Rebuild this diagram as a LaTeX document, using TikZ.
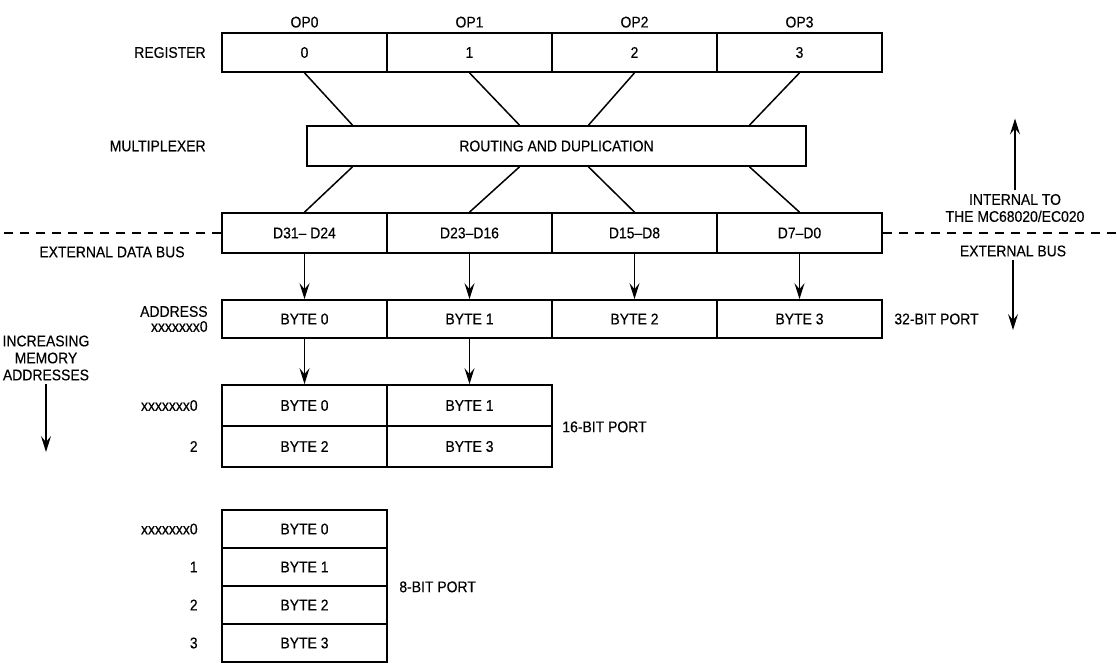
\documentclass[tikz,border=0pt]{standalone}
\usepackage{fontspec}
\setmainfont[FakeStretch=0.9, FakeBold=0.3]{Liberation Sans}
\usepackage{tikz}
\usetikzlibrary{arrows.meta, positioning}
\tikzset{>={Stealth[length=16pt,width=10pt,inset=6pt]}}

\begin{document}
\begin{tikzpicture}[x=1pt, y=-1pt,
		every node/.style={font=\fontsize{15.5}{17}\selectfont},
		cell/.style={draw, line width=1.7pt, minimum width=165pt, minimum height=40pt, inner sep=0pt},
		wire/.style={line width=1.5pt},
		flow/.style={->, line width=1.2pt},
		busline/.style={dash pattern=on 9pt off 7pt, line width=1.1pt}]
			\useasboundingbox (0,0) rectangle (1117,664);
			% register, multiplexer, data bus
			\foreach \i in {0,...,3}{
				\node[cell, minimum height=39pt] (reg\i) at ({304.5+165*\i},52.5) {\i};
				\node[above=1pt of reg\i] (op\i) {OP\i};
			}
			\node[draw, line width=1.7pt, minimum width=499pt, minimum height=40pt] (mux) at (556.5,146) {ROUTING AND DUPLICATION};
			\foreach \i/\t in {0/D31-- D24, 1/D23--D16, 2/D15--D8, 3/D7--D0}
				\node[cell] (bus\i) at ({304.5+165*\i},233) {\t};
			\foreach \i/\dx in {0/48, 1/50, 2/-46, 3/-50}{
				\coordinate (x\i) at ([xshift=\dx pt]reg\i.south);
				\draw[wire] (reg\i.south) -- (x\i |- mux.north);
				\draw[wire] (x\i |- mux.south) -- (bus\i.north);
			}
			\node[left=12pt of reg0] (reglbl) {REGISTER};
			\node[anchor=east] (muxlbl) at (reglbl.east |- mux) {MULTIPLEXER};
			\node (extlbl) at (112,252) {EXTERNAL DATA BUS};
			\draw[busline] (bus0.west) -- ++(-218,0);
			\draw[busline] (bus3.east) -- ++(235,0);
			% internal / external
			\node[align=center] (intlbl) at (1015,208) {INTERNAL TO\\THE MC68020/EC020};
			\node (extbus) at (1013,251) {EXTERNAL BUS};
			\draw[flow] (intlbl.north) -- ++(0,-72);
			\draw[flow] (extbus.south) -- ++(0,70);
			% 32-bit port
			\foreach \i in {0,...,3}{
				\node[cell, minimum height=38pt] (adr\i) at ({304.5+165*\i},319) {BYTE \i};
				\draw[flow] (bus\i.south) -- (adr\i.north);
			}
			\node[right=8pt of adr3] (p32) {32-BIT PORT};
			\node[left=10pt of adr0, align=right] (adrlbl) {ADDRESS\\[-2pt]xxxxxxx0};
			\node[align=center] (inclbl) at (46,358) {INCREASING\\MEMORY\\ADDRESSES};
			\draw[flow] (inclbl.south) -- ++(0,68);
			% 16-bit port
			\foreach \i/\c/\r in {0/0/0, 1/1/0, 2/0/1, 3/1/1}
				\node[cell, minimum height=41pt] (hw\i) at ({304.5+165*\c},{405.5+41*\r}) {BYTE \i};
			\draw[flow] (adr0.south) -- (hw0.north);
			\draw[flow] (adr1.south) -- (hw1.north);
			\node[anchor=west, xshift=6pt] (p16) at (hw1.south east) {16-BIT PORT};
			\node[left=20pt of hw0] (a16a) {xxxxxxx0};
			\node[left=20pt of hw2] (a16b) {2};
			% 8-bit port
			\foreach \i/\t in {0/xxxxxxx0, 1/1, 2/2, 3/3}{
				\node[cell, minimum height=38pt] (by\i) at (304.5,{529+38*\i}) {BYTE \i};
				\node[left=20pt of by\i] (a8\i) {\t};
			}
			\node[anchor=west, xshift=8pt] (p8) at (by1.south east) {8-BIT PORT};
		\end{tikzpicture}
\end{document}
